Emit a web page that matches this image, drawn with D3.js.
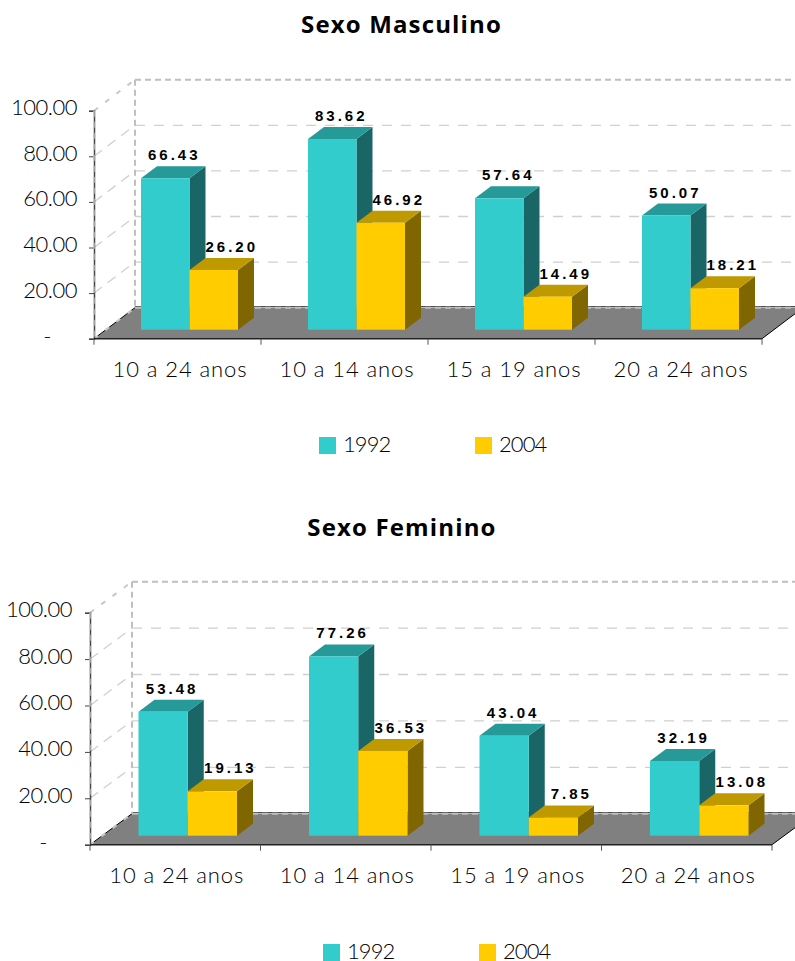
<!DOCTYPE html>
<html>
<head>
<meta charset="utf-8">
<script src="https://cdn.jsdelivr.net/npm/d3@7"></script>
<style>
  html, body { margin: 0; padding: 0; background: #fff; overflow: hidden; }
  svg { display: block; }
  text { fill: #000; }
  .title { font: bold 24px "Open Sans", sans-serif; letter-spacing: 1.15px; }
  .tick-label, .cat-label, .legend-label { font-family: Lato, sans-serif; font-size: 22px; font-weight: 300; }
  .tick-label { letter-spacing: -0.5px; }
  .cat-label { letter-spacing: 0.9px; }
  .legend-label { letter-spacing: -0.9px; }
  .value-label { font: bold 15px "Liberation Sans", sans-serif; letter-spacing: 3px; fill: #000; }
</style>
</head>
<body>
<svg id="chart" width="795" height="961"></svg>
<script>
var categories = ['10 a 24 anos', '10 a 14 anos', '15 a 19 anos', '20 a 24 anos'];
var years = ['1992', '2004'];
var masculino1992 = [66.43, 83.62, 57.64, 50.07];
var masculino2004 = [26.20, 46.92, 14.49, 18.21];
var feminino1992 = [53.48, 77.26, 43.04, 32.19];
var feminino2004 = [19.13, 36.53, 7.85, 13.08];
var yTicks = [0, 20, 40, 60, 80, 100];

var faces = {
  '1992': { front: '#33cccc', top: '#269999', side: '#1a6666' },
  '2004': { front: '#ffcc00', top: '#bf9900', side: '#806600' }
};

var svg = d3.select('#chart');

function drawChart(opts) {
  var g = svg.append('g');
  var y = d3.scaleLinear().domain([0, 100]).range([opts.bottom, opts.top]);
  var x = d3.scaleBand().domain(categories).range([opts.left, opts.right]);
  // bars sit inside each band, the two years side by side
  var inner = d3.scaleBand().domain(years)
    .range([opts.gap, x.bandwidth() - opts.gap]);

  var wallX = opts.left + opts.depthX;
  var wallRight = opts.right + opts.depthX;
  var floorY = opts.bottom - opts.depthY;

  g.append('text').attr('class', 'title')
    .attr('x', opts.titleX).attr('y', opts.titleY)
    .attr('text-anchor', 'middle')
    .text(opts.title);

  // floor
  g.append('path')
    .attr('d', 'M' + opts.left + ',' + opts.bottom + 'L' + wallX + ',' + floorY +
      'L' + wallRight + ',' + floorY + 'L' + opts.right + ',' + opts.bottom + 'Z')
    .attr('fill', '#808080');
  g.append('path')
    .attr('d', 'M' + opts.right + ',' + opts.bottom + 'L' + wallRight + ',' + floorY)
    .attr('stroke', '#000').attr('fill', 'none');
  g.append('path')
    .attr('d', 'M' + opts.left + ',' + opts.bottom + 'L' + wallX + ',' + floorY)
    .attr('stroke', '#000').attr('fill', 'none');
  g.append('line')
    .attr('x1', wallX).attr('x2', wallRight)
    .attr('y1', floorY - 1).attr('y2', floorY - 1)
    .attr('stroke', '#222').attr('stroke-width', 1);

  // gridlines on the back wall and their continuation on the side wall
  yTicks.forEach(function(t) {
    var py = y(t);
    var heavy = t === 100 || t === 0;
    g.append('line')
      .attr('x1', wallX).attr('x2', wallRight)
      .attr('y1', py - opts.depthY).attr('y2', py - opts.depthY)
      .attr('stroke', heavy ? '#bfbfbf' : '#d0d0d0')
      .attr('stroke-width', heavy ? 2 : 1.3)
      .attr('stroke-dasharray', heavy ? '6,4' : '10,9');
    g.append('line')
      .attr('x1', opts.left).attr('x2', wallX)
      .attr('y1', py).attr('y2', py - opts.depthY)
      .attr('stroke', heavy ? '#c8c8c8' : '#d0d0d0')
      .attr('stroke-width', heavy ? 2 : 1.3)
      .attr('stroke-dasharray', heavy ? '5,9' : '10,7');
  });
  g.append('line')
    .attr('x1', wallX).attr('x2', wallX)
    .attr('y1', y(100) - opts.depthY).attr('y2', floorY)
    .attr('stroke', '#bfbfbf').attr('stroke-width', 2).attr('stroke-dasharray', '6,4');

  // axes on the front edge
  var yAxis = d3.axisLeft(y).tickValues(yTicks).tickSize(5).tickFormat('');
  g.append('g').attr('transform', 'translate(' + opts.left + ',0)').call(yAxis)
    .call(function(s) {
      s.select('.domain').attr('stroke', '#444').attr('stroke-width', 1.5);
      s.selectAll('.tick line').attr('stroke', '#444');
    });
  g.append('line')
    .attr('x1', opts.left).attr('x2', opts.left)
    .attr('y1', y(100)).attr('y2', y(0))
    .attr('stroke', '#bfbfbf').attr('stroke-width', 1.5).attr('stroke-dasharray', '6,5');

  var xEdges = d3.range(categories.length + 1).map(function(i) { return opts.left + i * x.step(); });
  g.append('line')
    .attr('x1', opts.left).attr('x2', opts.right)
    .attr('y1', opts.bottom).attr('y2', opts.bottom)
    .attr('stroke', '#222').attr('stroke-width', 1.5);
  g.selectAll('.x-tick').data(xEdges).enter().append('line')
    .attr('class', 'x-tick')
    .attr('x1', function(d) { return d; }).attr('x2', function(d) { return d; })
    .attr('y1', opts.bottom).attr('y2', opts.bottom + 6)
    .attr('stroke', '#555');

  // the zero label is a bare dash set further to the left
  g.selectAll('.tick-label').data(yTicks).enter().append('text')
    .attr('class', 'tick-label')
    .attr('x', function(d) { return opts.left - (d === 0 ? 43 : opts.labelGap); })
    .attr('y', function(d) { return y(d) + (d === 0 ? 5 : 4.5); })
    .attr('text-anchor', 'end')
    .text(function(d) { return d === 0 ? '-' : d.toFixed(2); });

  g.selectAll('.cat-label').data(categories).enter().append('text')
    .attr('class', 'cat-label')
    .attr('x', function(d) { return x(d) + x.bandwidth() / 2 + opts.catShift; })
    .attr('y', opts.bottom + 38)
    .attr('text-anchor', 'middle')
    .text(function(d) { return d; });

  // 3d bars, drawn left to right so the yellow block covers the teal side face
  var zx = opts.barZX, zy = opts.barZY, dx = opts.barDX, dy = opts.barDY;
  var v = d3.scaleLinear().domain([0, 100]).range([0, opts.bottom - opts.top]);
  categories.forEach(function(cat, i) {
    years.forEach(function(year, j) {
      var val = opts.series[j][i];
      var c = faces[year];
      var x0 = x(cat) + inner(year) + zx;
      var w = inner.bandwidth();
      var base = opts.bottom - zy;
      var top = base - v(val);

      g.append('path').attr('fill', c.side)
        .attr('d', 'M' + (x0 + w) + ',' + top + 'l' + dx + ',' + (-dy) + 'V' + (base - dy) + 'L' + (x0 + w) + ',' + base + 'Z');
      g.append('path').attr('fill', c.top)
        .attr('d', 'M' + x0 + ',' + top + 'l' + dx + ',' + (-dy) + 'h' + w + 'l' + (-dx) + ',' + dy + 'Z');
      g.append('rect').attr('fill', c.front)
        .attr('x', x0).attr('y', top).attr('width', w).attr('height', base - top);

      g.append('text').attr('class', 'value-label')
        .attr('x', x0 + w / 2 + (j === 0 ? 9 : 18))
        .attr('y', top - dy - 6)
        .attr('text-anchor', 'middle')
        .text(val.toFixed(2));
    });
  });

  // legend
  years.forEach(function(year, j) {
    var lx = opts.legendX + j * 156;
    g.append('rect').attr('x', lx).attr('y', opts.legendY)
      .attr('width', 17).attr('height', 17).attr('fill', faces[year].front);
    g.append('text').attr('class', 'legend-label')
      .attr('x', lx + 24).attr('y', opts.legendY + 15)
      .text(year);
  });
}

drawChart({
  title: 'Sexo Masculino', titleX: 401.5, titleY: 33,
  series: [masculino1992, masculino2004],
  left: 94, right: 762, top: 110.7, bottom: 338.7,
  depthX: 41, depthY: 31, gap: 35, catShift: 2.5, labelGap: 17,
  barZX: 12, barZY: 9, barDX: 16, barDY: 12,
  legendX: 319, legendY: 437
});

drawChart({
  title: 'Sexo Feminino', titleX: 402, titleY: 536,
  series: [feminino1992, feminino2004],
  left: 90, right: 772, top: 612.7, bottom: 844.7,
  depthX: 42, depthY: 31, gap: 36, catShift: 1.5, labelGap: 18,
  barZX: 12.5, barZY: 9, barDX: 16, barDY: 12,
  legendX: 323, legendY: 944
});
</script>
</body>
</html>
